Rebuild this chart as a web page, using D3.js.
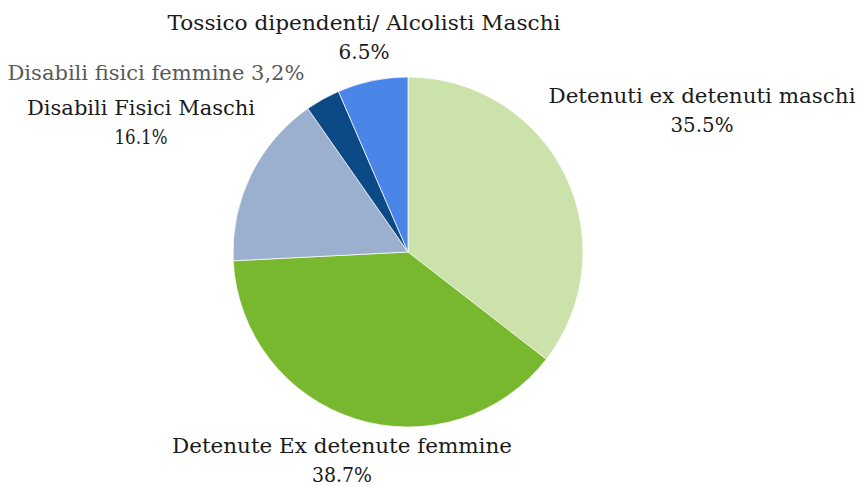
<!DOCTYPE html>
<html>
<head>
<meta charset="utf-8">
<script src="https://cdn.jsdelivr.net/npm/d3@7"></script>
<style>
  body { margin: 0; background: #fff; }
  svg { display: block; }
</style>
</head>
<body>
<svg id="chart"></svg>
<script>
// data
const categories = [
    "Detenuti ex detenuti maschi",
    "Detenute Ex detenute femmine",
    "Disabili Fisici Maschi",
    "Disabili fisici femmine",
    "Tossico dipendenti/ Alcolisti Maschi"
];
const values = [35.5, 38.7, 16.1, 3.2, 6.5];
const valueLabels = ["35.5%", "38.7%", "16.1%", "3,2%", "6.5%"];
const colors = ["#cce2ab", "#78b82f", "#9bb0cf", "#0b4a85", "#4a86e8"];

const width = 860, height = 486;
const cx = 408, cy = 252, radius = 175;

// label layout: centre x, first baseline y, widths of name / value lines
const labelPos = [
    { x: 702, y: 103, w: [307, 63] },
    { x: 342, y: 453, w: [340, 60] },
    { x: 141, y: 115, w: [228, 53] },
    { x: 156, y: 80, w: [297] },
    { x: 364, y: 30, w: [393, 51] }
];

const svg = d3.select("#chart")
    .attr("width", width)
    .attr("height", height);

const pie = d3.pie().sort(null).value(d => d.value);
const arc = d3.arc().innerRadius(0).outerRadius(radius);

const data = categories.map((c, i) => ({ name: c, value: values[i], label: valueLabels[i], color: colors[i] }));

const g = svg.append("g").attr("transform", `translate(${cx},${cy})`);

g.selectAll("path")
    .data(pie(data))
    .enter()
    .append("path")
    .attr("d", arc)
    .attr("fill", d => d.data.color)
    .attr("stroke", "#fff")
    .attr("stroke-width", 0.7);

const labels = svg.append("g")
    .attr("font-family", "'DejaVu Serif', 'Liberation Serif', serif")
    .attr("font-size", 21)
    .attr("text-anchor", "middle");

function addLine(x, y, w, txt, fill) {
    labels.append("text")
        .attr("x", x).attr("y", y)
        .attr("fill", fill)
        .attr("textLength", w)
        .attr("lengthAdjust", "spacingAndGlyphs")
        .text(txt);
}

data.forEach((d, i) => {
    const p = labelPos[i];
    if (p.w.length === 1) {
        addLine(p.x, p.y, p.w[0], `${d.name} ${d.label}`, "#595959");
    } else {
        addLine(p.x, p.y, p.w[0], d.name, "#1a1a1a");
        addLine(p.x, p.y + 29, p.w[1], d.label, "#1a1a1a");
    }
});
</script>
</body>
</html>
